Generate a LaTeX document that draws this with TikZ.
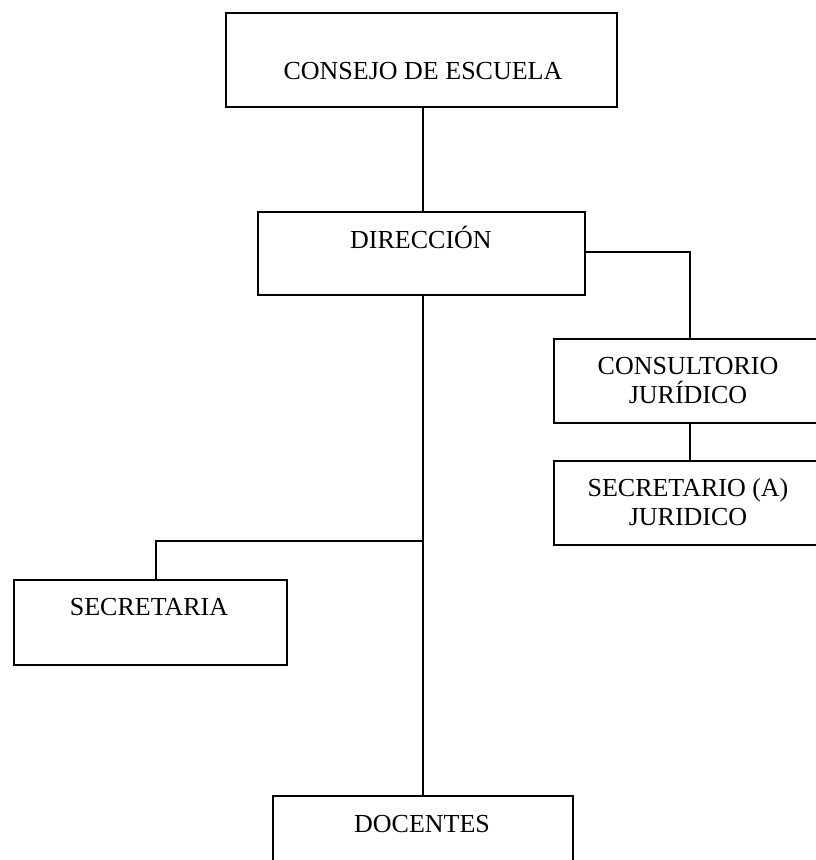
\documentclass[tikz,border=0pt]{standalone}
\usepackage{fontspec}
\setmainfont{Liberation Serif}
\begin{document}
\begin{tikzpicture}[x=1pt,y=-1pt,
  box/.style={draw=black,line width=1.8pt,rectangle,inner sep=0pt,anchor=north west},
  lbl/.style={font=\fontsize{26}{29}\selectfont,inner sep=0pt,align=center},
  conn/.style={draw=black,line width=1.6pt}]
\useasboundingbox (0,0) rectangle (815,860);
\fill[white] (0,0) rectangle (815,860);
% boxes
\node[box,minimum width=391pt,minimum height=94pt] (consejo) at (225,12) {};
\node[box,minimum width=327pt,minimum height=83pt] (dir) at (257,211) {};
\node[box,minimum width=272pt,minimum height=84pt] (cons) at (553,338) {};
\node[box,minimum width=272pt,minimum height=84pt] (secj) at (553,460) {};
\node[box,minimum width=273pt,minimum height=85pt] (secr) at (13,579) {};
\node[box,minimum width=300pt,minimum height=90pt] (doc) at (272,795) {};
% labels
\node[lbl,anchor=base] (tconsejo) at (423,79) {CONSEJO DE ESCUELA};
\node[lbl,anchor=base] (tdir) at (421,248) {DIRECCIÓN};
\node[lbl,anchor=north] (tcons) at (688,357) {CONSULTORIO\\JURÍDICO};
\node[lbl,anchor=north] (tsecj) at (688,478) {SECRETARIO (A)\\JURIDICO};
\node[lbl,anchor=base] (tsecr) at (149,615) {SECRETARIA};
\node[lbl,anchor=base] (tdoc) at (422,832) {DOCENTES};
% connectors
\coordinate (jr) at (dir.east |- 0,252);
\coordinate (jm) at (423,541);
\draw[conn] (consejo.south -| 423,0) -- (dir.north -| 423,0);
\draw[conn] (jr) -| (cons.north);
\draw[conn] (cons.south) -- (secj.north);
\draw[conn] (dir.south -| 423,0) -- (doc.north -| 423,0);
\draw[conn] (jm) -| (secr.north -| 156,0);
\end{tikzpicture}
\end{document}
